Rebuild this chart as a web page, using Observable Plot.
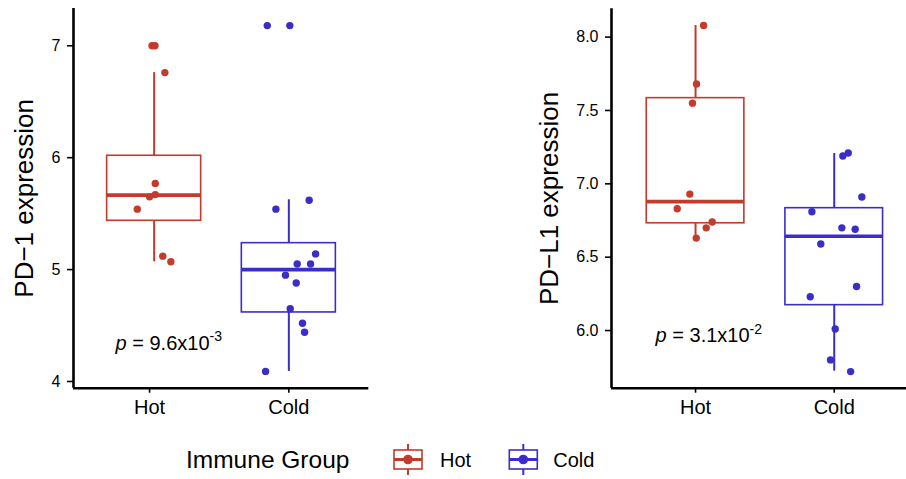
<!DOCTYPE html>
<html>
<head>
<meta charset="utf-8">
<script src="https://cdn.jsdelivr.net/npm/d3@7"></script>
<script src="https://cdn.jsdelivr.net/npm/@observablehq/plot@0.6"></script>
<style>
  body { margin: 0; background: #ffffff; font-family: "Liberation Sans", Arial, sans-serif; }
  #wrap { position: relative; width: 906px; height: 479px; overflow: hidden; background: #fff; }
  #left, #right { position: absolute; top: 0; }
  #left { left: 0; }
  #right { left: 520px; }
  #legend { position: absolute; left: 0; top: 430px; }
</style>
</head>
<body>
<div id="wrap">
  <div id="left"></div>
  <div id="right"></div>
  <svg id="legend" width="906" height="49"></svg>
</div>
<script>
// ---------- data ----------
const groups = ["Hot", "Cold"];
const colors = ["#c33b2d", "#3b2dc8"];
const legendTitle = "Immune Group";

// PD-1 panel
const pd1Label = "PD\u22121 expression";
const pd1Ticks = [4, 5, 6, 7];
const pd1Hot = [7.00, 7.00, 6.76, 5.77, 5.67, 5.65, 5.54, 5.12, 5.07];
const pd1HotJitter = [0.018, 0.039, 0.110, 0.041, 0.041, 0.000, -0.088, 0.095, 0.153];
const pd1Cold = [7.18, 7.18, 5.62, 5.54, 5.14, 5.05, 5.05, 4.95, 4.88, 4.65, 4.52, 4.44, 4.09];
const pd1ColdJitter = [-0.155, 0.007, 0.146, -0.093, 0.192, 0.060, 0.156, -0.024, 0.053, 0.010, 0.098, 0.113, -0.167];
const pd1BoxLow = [5.07, 4.09];
const pd1BoxQ1 = [5.436, 4.617];
const pd1BoxMedian = [5.665, 5.00];
const pd1BoxQ3 = [6.017, 5.236];
const pd1BoxHigh = [6.76, 5.624];
const pd1BoxCenter = [1.033, 2.0];
const pd1PMantissa = "9.6";
const pd1PExponent = "-3";

// PD-L1 panel
const pdl1Label = "PD\u2212L1 expression";
const pdl1Ticks = [6.0, 6.5, 7.0, 7.5, 8.0];
const pdl1Hot = [8.08, 7.68, 7.55, 6.93, 6.83, 6.74, 6.70, 6.63];
const pdl1HotJitter = [0.058, 0.007, -0.022, -0.041, -0.132, 0.120, 0.077, 0.005];
const pdl1Cold = [7.19, 7.21, 6.91, 6.81, 6.70, 6.69, 6.59, 6.30, 6.23, 6.01, 5.80, 5.72];
const pdl1ColdJitter = [0.062, 0.101, 0.199, -0.161, 0.055, 0.151, -0.097, 0.161, -0.173, 0.007, -0.027, 0.118];
const pdl1BoxLow = [6.629, 5.723];
const pdl1BoxQ1 = [6.731, 6.173];
const pdl1BoxMedian = [6.879, 6.643];
const pdl1BoxQ3 = [7.584, 6.834];
const pdl1BoxHigh = [8.079, 7.207];
const pdl1BoxCenter = [1.0, 2.0];
const pdl1PMantissa = "3.1";
const pdl1PExponent = "-2";

// ---------- drawing ----------
const FONT = "'Liberation Sans', Arial, Helvetica, sans-serif";

function panel(cfg) {
  const boxes = groups.map((g, i) => ({
    group: g, cx: cfg.boxCenter[i], lo: cfg.low[i], q1: cfg.q1[i],
    med: cfg.median[i], q3: cfg.q3[i], hi: cfg.high[i]
  }));
  const points = [];
  groups.forEach((g, i) => cfg.values[i].forEach((v, k) =>
    points.push({group: g, x: i + 1 + cfg.jitter[i][k], y: v})));
  const hw = cfg.boxWidth / 2;
  const ptext = [{x: cfg.pX, y: cfg.pY, t: "p = " + cfg.pMant + "x10" + cfg.pExp, m: cfg.pMant, e: cfg.pExp}];

  const svg = Plot.plot({
    width: cfg.width,
    height: 430,
    marginLeft: cfg.marginLeft,
    marginRight: cfg.marginRight,
    marginTop: cfg.marginTop,
    marginBottom: 42.3,
    x: {type: "linear", domain: cfg.xDomain},
    y: {domain: cfg.yDomain},
    color: {domain: groups, range: colors},
    style: {fontFamily: FONT, fontSize: "16px", background: "white", color: "black", overflow: "visible"},
    marks: [
      Plot.ruleX(boxes, {x: "cx", y1: "q3", y2: "hi", stroke: "group", strokeWidth: 2}),
      Plot.ruleX(boxes, {x: "cx", y1: "lo", y2: "q1", stroke: "group", strokeWidth: 2}),
      Plot.rect(boxes, {x1: d => d.cx - hw, x2: d => d.cx + hw, y1: "q1", y2: "q3",
        fill: "white", stroke: "group", strokeWidth: 1.6}),
      Plot.ruleY(boxes, {y: "med", x1: d => d.cx - hw, x2: d => d.cx + hw, stroke: "group", strokeWidth: 3.6}),
      Plot.dot(points, {x: "x", y: "y", fill: "group", r: 3.7}),
      Plot.text(ptext, {x: "x", y: "y", text: "t", textAnchor: "start", lineAnchor: "middle",
        fontSize: 20, fill: "black"}),
      Plot.ruleX([cfg.xDomain[0]], {stroke: "black", strokeWidth: 2.6}),
      Plot.ruleY([cfg.yDomain[0]], {stroke: "black", strokeWidth: 2.6}),
      Plot.axisY({ticks: cfg.yTicks, tickFormat: cfg.yFormat, tickSize: 6, tickPadding: 7,
        fontSize: 16, color: "black", strokeWidth: 1.6, label: null}),
      Plot.axisX({ticks: [1, 2], tickFormat: i => groups[i - 1], tickSize: 5, tickPadding: 7,
        fontSize: 20, color: "black", strokeWidth: 1.6, label: null}),
      Plot.text([cfg.yLabel], {frameAnchor: "left", rotate: -90, dx: cfg.labelDx, text: d => d,
        textAnchor: "middle", lineAnchor: "middle", fontSize: 26, fill: "black"})
    ]
  });

  // p-value with italic p and superscript exponent
  const NS = "http://www.w3.org/2000/svg";
  svg.querySelectorAll("text").forEach(t => {
    if (t.textContent === ptext[0].t) {
      while (t.firstChild) t.removeChild(t.firstChild);
      const a = document.createElementNS(NS, "tspan");
      a.setAttribute("font-style", "italic"); a.textContent = "p";
      const b = document.createElementNS(NS, "tspan");
      b.textContent = " = " + ptext[0].m + "x10";
      const c = document.createElementNS(NS, "tspan");
      c.setAttribute("font-size", "14"); c.setAttribute("dy", "-8.5");
      c.textContent = ptext[0].e;
      t.appendChild(a); t.appendChild(b); t.appendChild(c);
    }
  });
  return svg;
}

document.getElementById("left").appendChild(panel({
  width: 380, marginLeft: 73, marginRight: 11.7, marginTop: 8,
  xDomain: [0.454, 2.574], yDomain: [3.94, 7.333],
  yTicks: pd1Ticks, yFormat: d3.format("d"), yLabel: pd1Label, labelDx: -48.6,
  values: [pd1Hot, pd1Cold], jitter: [pd1HotJitter, pd1ColdJitter],
  low: pd1BoxLow, q1: pd1BoxQ1, median: pd1BoxMedian, q3: pd1BoxQ3, high: pd1BoxHigh,
  boxCenter: pd1BoxCenter, boxWidth: 0.675,
  pX: 0.756, pY: 4.343, pMant: pd1PMantissa, pExp: pd1PExponent
}));

document.getElementById("right").appendChild(panel({
  width: 386, marginLeft: 91, marginRight: 0, marginTop: 8.3,
  xDomain: [0.394, 2.521], yDomain: [5.607, 8.193],
  yTicks: pdl1Ticks, yFormat: d3.format(".1f"), yLabel: pdl1Label, labelDx: -62,
  values: [pdl1Hot, pdl1Cold], jitter: [pdl1HotJitter, pdl1ColdJitter],
  low: pdl1BoxLow, q1: pdl1BoxQ1, median: pdl1BoxMedian, q3: pdl1BoxQ3, high: pdl1BoxHigh,
  boxCenter: pdl1BoxCenter, boxWidth: 0.704,
  pX: 0.712, pY: 5.964, pMant: pdl1PMantissa, pExp: pdl1PExponent
}));

// ---------- legend ----------
const lg = d3.select("#legend").style("font-family", FONT);
lg.append("text").attr("x", 186).attr("y", 38).attr("font-size", 24.5).attr("fill", "black").text(legendTitle);
const keyX = [394, 509.3];
const labX = [440, 553.3];
const keyMid = 29.5;
groups.forEach((g, i) => {
  const k = lg.append("g");
  const cx = keyX[i] + 14;
  k.append("line").attr("x1", cx).attr("x2", cx).attr("y1", keyMid - 15.5).attr("y2", keyMid + 15.5)
    .attr("stroke", colors[i]).attr("stroke-width", 2);
  k.append("rect").attr("x", keyX[i]).attr("y", keyMid - 9.5).attr("width", 28).attr("height", 19)
    .attr("fill", "white").attr("stroke", colors[i]).attr("stroke-width", 1.6);
  k.append("line").attr("x1", keyX[i]).attr("x2", keyX[i] + 28).attr("y1", keyMid).attr("y2", keyMid)
    .attr("stroke", colors[i]).attr("stroke-width", 3);
  k.append("circle").attr("cx", cx).attr("cy", keyMid).attr("r", 4.8).attr("fill", colors[i]);
  lg.append("text").attr("x", labX[i]).attr("y", 37).attr("font-size", 20).attr("fill", "black").text(g);
});
</script>
</body>
</html>
